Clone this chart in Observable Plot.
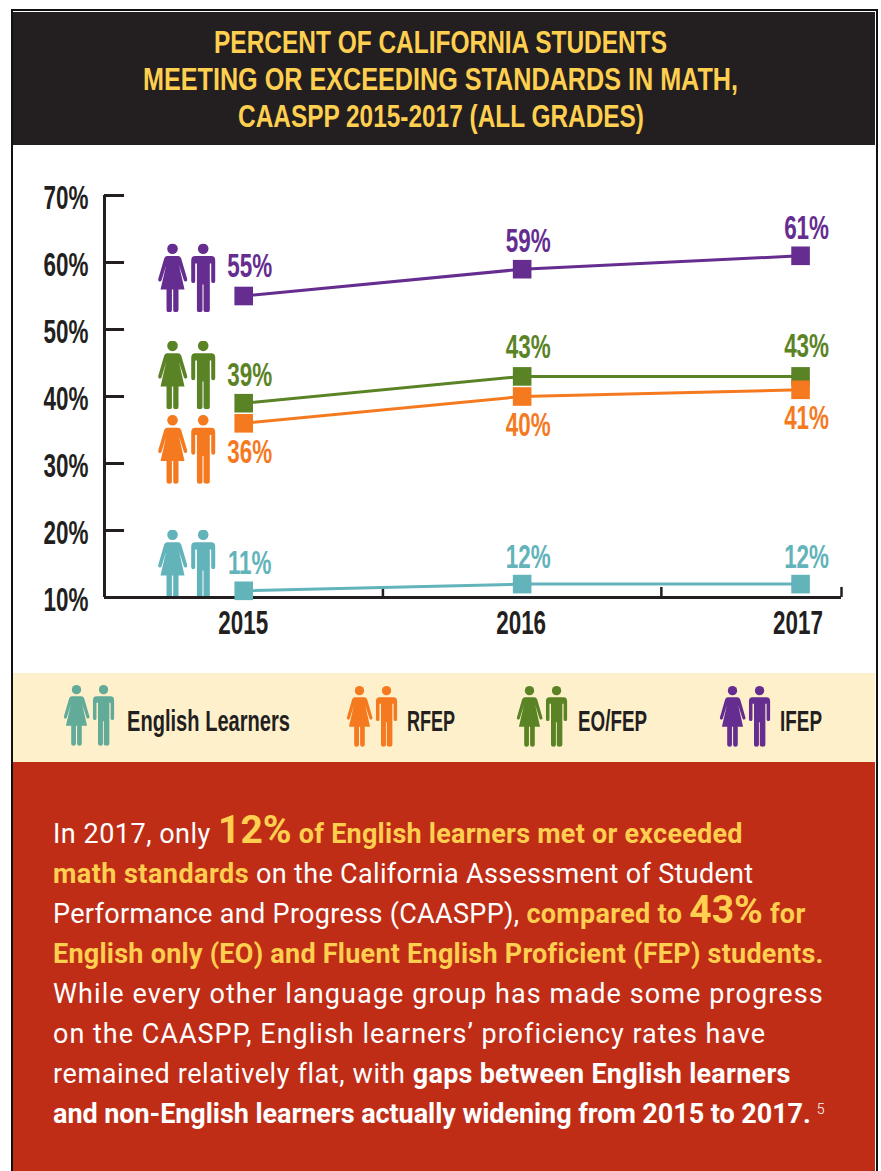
<!DOCTYPE html>
<html><head><meta charset="utf-8">
<script src="https://cdn.jsdelivr.net/npm/d3@7"></script>
<script src="https://cdn.jsdelivr.net/npm/@observablehq/plot@0.6"></script>
<style>
html,body{margin:0;padding:0;background:#fff;}
#page{position:relative;width:881px;height:1171px;overflow:hidden;background:#fff;}
#frame{position:absolute;left:11px;top:9px;width:863px;height:1180px;border:2.5px solid #111;background:#fff;}
#head{position:absolute;left:13px;top:12px;width:862px;height:133px;background:#231f20;}
.t{position:absolute;color:#ffcf4f;font:bold 32px "Liberation Sans";white-space:nowrap;line-height:36px;transform-origin:0 50%;}
#chart{position:absolute;left:0;top:145px;}
#legend{position:absolute;left:13px;top:673px;width:862px;height:89px;background:#fff0cc;}
#red{position:absolute;left:13px;top:762px;width:862px;height:409px;background:#bf2d17;}
.l{position:absolute;left:53px;color:#fff;font:400 27px Roboto;white-space:nowrap;line-height:40px;height:40px;}
.l b{font-weight:700;}
.y{color:#ffcf4f;font-weight:700;}
.big{font-size:39px;font-weight:700;color:#ffcf4f;line-height:30px;letter-spacing:0;}
.lab{position:absolute;font:bold 29px "Liberation Sans";color:#231f20;white-space:nowrap;transform-origin:0 50%;line-height:32px;}
sup{font-size:14px;font-weight:300;line-height:0;vertical-align:9px;letter-spacing:0;margin-left:6px;}
</style></head>
<body><div id="page">
<div id="frame"></div><div id="head"></div>
<div id="titles"></div>
<div id="chart"></div>
<div id="legend"></div>
<div id="red"></div>
<div id="para"></div>
</div>
<script>
const titleLines = ["PERCENT OF CALIFORNIA STUDENTS","MEETING OR EXCEEDING STANDARDS IN MATH,","CAASPP 2015-2017 (ALL GRADES)"];
const titleWidths = [453,595,406];
const years = [2015,2016,2017];
const seriesNames = ["IFEP","EO/FEP","RFEP","English Learners"];
const ifep = [55,59,61];
const eo = [39,43,43];
const rfep = [36,40,41];
const el = [11,12,12];
const lineColors = ["#652d90","#5a8325","#f57a1f","#62b3ba"];
const legendColors = {"English Learners":"#62ab99","RFEP":"#f57a1f","EO/FEP":"#5a8325","IFEP":"#652d90"};
const iconLevels = [57.7,43.2,32.1,15];
const labelOffsets = [[-30,-27.5,-27],[-28,-29,-30],[29,29,29],[-27,-27,-27]];
const yearNudges = [-0.5,-1,-2.5];
const yTicks = [10,20,30,40,50,60,70];
const xMinorTicks = [2015.5,2016.5,2017.147];
const xDomain = [2014.5,2017.147];
const yDomain = [10,70];
const ink = "#231f20";
const CONDENSED = '"Liberation Sans"';

const personSvg = c => `<svg xmlns="http://www.w3.org/2000/svg" viewBox="0 0 59 69"><g fill="${c}" stroke="none"><circle cx="15.3" cy="5.3" r="5.3"/><circle cx="46" cy="5.3" r="5.3"/><path d="M10 12.7H20.8Q23 12.7 24 15L30 35.5Q30.3 37.5 28.8 38Q27.4 38.4 26.6 36.8L21.8 21.5L27.3 46H21.3V66.5Q21.3 68.7 18.7 68.7Q16 68.7 16 66.5V46H14.7V66.5Q14.7 68.7 12 68.7Q9.3 68.7 9.3 66.5V46H3.3L9 21.5L4.4 36.8Q3.6 38.4 2.2 38Q.7 37.5 1 35.5L7 15Q8 12.7 10 12.7Z"/><path d="M38 12.7H54Q58 12.7 58 17V37.5Q58 39.7 56 39.7Q54 39.7 54 37.5V20H52.6V66.5Q52.6 68.7 49.5 68.7Q46.3 68.7 46.3 66.5V41H45.3V66.5Q45.3 68.7 42.5 68.7Q39.7 68.7 39.7 66.5V20H38V37.5Q38 39.7 36 39.7Q34 39.7 34 37.5V17Q34 12.7 38 12.7Z"/></g></svg>`;
const uri = c => "data:image/svg+xml;utf8," + encodeURIComponent(personSvg(c));

const allValues = [ifep,eo,rfep,el];
const rows = seriesNames.flatMap((s,i)=>years.map((yr,j)=>({series:s,year:yr,value:allValues[i][j],color:lineColors[i],off:labelOffsets[i][j]})));
const icons = seriesNames.map((s,i)=>({series:s,year:2015,level:iconLevels[i],color:lineColors[i]}));

function fitWidth(el, target, cx){
  const w = el.getBoundingClientRect().width;
  const k = target/w;
  el.style.transform = `scaleX(${k})`;
  if(cx!==undefined) el.style.left = (cx-target/2)+"px";
}

// titles
const tb = d3.select("#titles");
titleLines.forEach((t,i)=>{
  const s = tb.append("div").attr("class","t").style("top",(24+i*37)+"px").text(t);
  fitWidth(s.node(),titleWidths[i],440.5);
});

const condensedText = {fontFamily:CONDENSED,fontWeight:"bold",fontSize:33};
const chart = Plot.plot({
  width:881,height:528,
  margin:0,
  style:{background:"transparent",overflow:"visible"},
  x:{domain:xDomain,range:[104,841],axis:null},
  y:{domain:yDomain,range:[452,50],axis:null},
  marks:[
    Plot.image(icons,{x:"year",y:"level",src:d=>uri(d.color),width:59,height:69,dx:-57,preserveAspectRatio:"none"}),
    Plot.ruleY(yTicks,{x1:xDomain[0],x2:2014.572,stroke:ink,strokeWidth:3}),
    Plot.ruleX([xDomain[0]],{y1:yDomain[0],y2:yDomain[1],stroke:ink,strokeWidth:3}),
    Plot.ruleY([10],{x1:xDomain[0],x2:xDomain[1],stroke:ink,strokeWidth:3}),
    Plot.ruleX(xMinorTicks,{y1:10,y2:11.5,stroke:ink,strokeWidth:2.5}),
    Plot.text(yTicks,{x:xDomain[0],y:d=>d,text:d=>d+"%",dx:-16,dy:3,textAnchor:"end",fill:ink,...condensedText,className:"sq"}),
    Plot.text(years,{x:d=>d,y:10,text:d=>String(d),dy:26,fill:ink,...condensedText,className:"sq yr"}),
    Plot.line(rows,{x:"year",y:"value",z:"series",stroke:"color",strokeWidth:3}),
    Plot.dot(rows,{x:"year",y:"value",symbol:"square",r:10.5,fill:"color"}),
    Plot.text(rows,{x:"year",y:d=>d.value,text:d=>d.value+"%",fill:"color",dx:6,...condensedText,className:"sq lbl"})
  ]
});
document.getElementById("chart").append(chart);
d3.select(chart).selectAll("g.lbl text").each(function(_,i){
  const t=this.getAttribute("transform")||""; this.setAttribute("transform",t+` translate(0,${rows[i].off})`);
});
d3.select(chart).selectAll("g.yr text").each(function(_,i){
  const t=this.getAttribute("transform")||""; this.setAttribute("transform",t+` translate(${yearNudges[i]},0)`);
});
d3.select(chart).selectAll("g.sq text").each(function(){
  const t=this.getAttribute("transform")||""; this.setAttribute("transform",t+" scale(0.68,1)");
});

// legend
const legendItems = [["English Learners",50,12,114,163],["RFEP",333,13,394,48],["EO/FEP",503,13,565,69],["IFEP",706,13,767,42]];
const lg = d3.select("#legend");
legendItems.forEach(([name,x,y,tx,tw])=>{
  lg.append("div").style("position","absolute").style("left",x+"px").style("top",y+"px").style("width","52px").style("height","61px")
    .html(personSvg(legendColors[name]).replace('<svg ','<svg width="52" height="61" preserveAspectRatio="none" '));
  const s = lg.append("div").attr("class","lab").style("left",tx+"px").style("top","32px").text(name);
  fitWidth(s.node(),tw);
});

// paragraph
const lines = [
 `In 2017, only <span class="big">12%</span> <span class="y" style="letter-spacing:.24px">of English learners met or exceeded</span>`,
 `<span class="y" style="letter-spacing:.45px">math standards</span> on the California Assessment of Student`,
 `Performance and Progress (CAASPP), <span class="y" style="letter-spacing:.3px">compared to</span> <span class="big">43%</span> <span class="y" style="letter-spacing:.3px">for</span>`,
 `<span class="y" style="letter-spacing:.24px">English only (EO) and Fluent English Proficient (FEP) students.</span>`,
 `While every other language group has made some progress`,
 `on the CAASPP, English learners’ proficiency rates have`,
 `remained relatively flat, with <b style="letter-spacing:.25px">gaps between English learners</b>`,
 `<b style="letter-spacing:-.06px">and non-English learners actually widening from 2015 to 2017.</b><sup>5</sup>`
];
const lineSpacing = [.5,.33,.32,0,1.1,1,.6,0];
const pb = d3.select("#para");
lines.forEach((h,i)=>pb.append("div").attr("class","l").style("top",(814+i*40)+"px").style("letter-spacing",lineSpacing[i]+"px").html(h));
</script>
</body></html>
